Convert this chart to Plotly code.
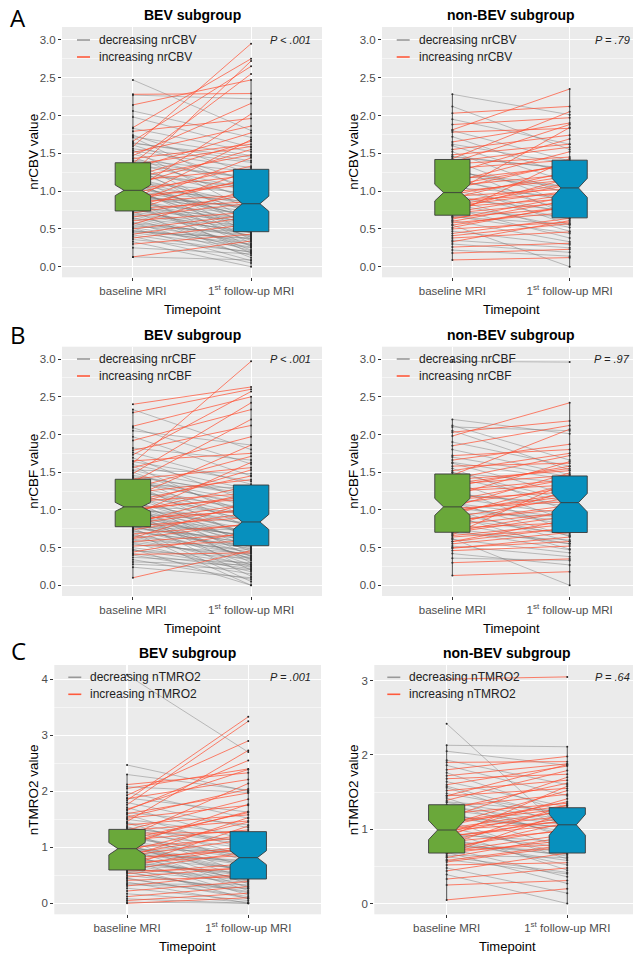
import plotly.graph_objects as go

W, H = 633, 954

timepoints = ["baseline MRI", "1<sup>st</sup> follow-up MRI"]
timepoint_x = [1, 2]
panel_letters = ["A", "B", "C"]
subgroup_titles = ["BEV subgroup", "non-BEV subgroup"]
measures = ["nrCBV", "nrCBF", "nTMRO2"]
p_texts = ["P &lt; .001", "P = .79", "P &lt; .001", "P = .97", "P = .001", "P = .64"]

# ---------------- nrCBV, BEV subgroup ----------------
cbv_bev_baseline = [
    2.47, 2.28, 2.27, 2.14, 2.06, 1.98, 1.84, 1.83, 1.79, 1.74,
    1.71, 1.66, 1.64, 1.61, 1.59, 1.56, 1.54, 1.51, 1.49, 1.47,
    1.45, 1.43, 1.41, 1.39, 1.37, 1.36, 1.34, 1.32, 1.30, 1.28,
    1.26, 1.24, 1.22, 1.20, 1.18, 1.17, 1.15, 1.14, 1.12, 1.10,
    1.09, 1.08, 1.06, 1.05, 1.03, 1.02, 1.01, 1.00, 0.99, 0.98,
    0.97, 0.96, 0.95, 0.93, 0.92, 0.91, 0.89, 0.88, 0.87, 0.86,
    0.85, 0.84, 0.83, 0.82, 0.81, 0.80, 0.79, 0.78, 0.77, 0.76,
    0.75, 0.74, 0.73, 0.72, 0.71, 0.69, 0.68, 0.66, 0.64, 0.63,
    0.61, 0.59, 0.58, 0.56, 0.55, 0.53, 0.51, 0.50, 0.48, 0.46,
    0.45, 0.43, 0.42, 0.40, 0.38, 0.36, 0.33, 0.30, 0.25, 0.13,
    1.53, 1.19, 0.94, 0.70, 1.63, 0.89, 1.27, 0.52, 1.35, 0.13,
    1.15, 0.99, 0.81, 0.65, 1.40, 1.08, 0.57, 0.92, 0.47, 1.72,
]
cbv_bev_followup = [
    1.80, 2.29, 2.22, 2.47, 1.71, 1.58, 2.75, 1.52, 1.96, 1.23,
    0.98, 2.65, 1.40, 1.12, 2.95, 1.38, 0.74, 1.86, 1.05, 2.16,
    0.88, 1.62, 1.26, 0.61, 2.55, 1.02, 1.19, 0.52, 1.77, 0.93,
    0.71, 2.72, 1.05, 0.44, 1.48, 0.83, 0.36, 1.29, 0.97, 0.58,
    0.82, 1.55, 0.65, 0.31, 1.21, 0.90, 0.47, 2.02, 0.76, 0.55,
    1.33, 0.68, 0.27, 1.09, 0.80, 0.39, 1.68, 0.62, 0.18, 0.95,
    0.57, 1.44, 0.70, 0.22, 0.49, 1.17, 0.63, 0.35, 0.86, 0.41,
    0.60, 1.27, 0.12, 0.53, 0.95, 0.45, 0.29, 0.84, 0.48, 0.21,
    0.72, 0.40, 0.15, 1.03, 0.33, 0.46, 0.08, 0.69, 0.30, 0.38,
    0.25, 0.66, 0.19, 0.05, 0.56, 0.20, 0.00, 0.43, 0.17, 0.09,
    1.31, 1.66, 0.78, 0.50, 1.45, 1.14, 1.01, 0.26, 1.59, 0.34,
    0.75, 0.86, 0.55, 0.28, 1.16, 0.64, 0.42, 0.73, 0.37, 1.47,
]

# ---------------- nrCBV, non-BEV subgroup ----------------
cbv_nonbev_baseline = [
    2.28, 2.12, 2.03, 1.95, 1.88, 1.81, 1.80, 1.78, 1.72, 1.65,
    1.60, 1.55, 1.52, 1.48, 1.45, 1.43, 1.41, 1.39, 1.36, 1.33,
    1.30, 1.27, 1.24, 1.21, 1.18, 1.15, 1.12, 1.10, 1.07, 1.05,
    1.03, 1.01, 0.99, 0.97, 0.95, 0.93, 0.91, 0.89, 0.87, 0.85,
    0.83, 0.81, 0.79, 0.77, 0.75, 0.73, 0.71, 0.69, 0.67, 0.65,
    0.63, 0.61, 0.58, 0.55, 0.52, 0.50, 0.47, 0.44, 0.41, 0.38,
    0.35, 0.33, 0.30, 0.26, 0.22, 0.18, 0.09, 0.72, 1.14, 1.62,
    0.96, 1.25, 0.55, 1.46, 0.80, 1.08, 0.66, 1.38, 0.90, 0.60,
]
cbv_nonbev_followup = [
    2.01, 1.55, 2.12, 1.62, 1.97, 2.35, 1.40, 1.83, 1.21, 1.90,
    1.12, 1.74, 0.95, 1.62, 1.30, 2.05, 0.82, 1.58, 1.45, 0.68,
    1.41, 0.98, 1.69, 1.05, 0.74, 1.33, 1.52, 0.55, 1.22, 0.92,
    1.37, 0.71, 1.15, 1.84, 0.63, 1.03, 1.26, 0.47, 0.97, 1.10,
    0.52, 1.08, 0.90, 0.38, 1.17, 0.66, 0.85, 1.43, 0.44, 0.78,
    0.93, 0.33, 0.72, 0.00, 0.81, 0.59, 0.29, 0.64, 0.57, 0.46,
    0.25, 0.61, 0.19, 0.31, 0.14, 0.23, 0.12, 0.96, 0.87, 1.36,
    1.20, 1.06, 0.79, 1.29, 1.00, 1.36, 0.56, 1.88, 0.74, 0.88,
]

# ---------------- nrCBF, BEV subgroup ----------------
cbf_bev_baseline = [
    2.40, 2.33, 2.29, 2.11, 2.09, 2.05, 1.97, 1.92, 1.82, 1.79,
    1.76, 1.73, 1.69, 1.65, 1.62, 1.60, 1.58, 1.56, 1.53, 1.50,
    1.48, 1.46, 1.43, 1.41, 1.39, 1.37, 1.35, 1.33, 1.31, 1.29,
    1.27, 1.25, 1.23, 1.21, 1.19, 1.17, 1.15, 1.13, 1.11, 1.09,
    1.08, 1.07, 1.05, 1.04, 1.03, 1.02, 1.01, 1.00, 0.98, 0.97,
    0.96, 0.95, 0.93, 0.92, 0.91, 0.89, 0.88, 0.87, 0.86, 0.85,
    0.84, 0.83, 0.82, 0.81, 0.80, 0.79, 0.78, 0.77, 0.76, 0.75,
    0.74, 0.73, 0.71, 0.70, 0.68, 0.67, 0.65, 0.63, 0.61, 0.60,
    0.58, 0.56, 0.54, 0.52, 0.50, 0.48, 0.46, 0.44, 0.42, 0.41,
    0.40, 0.37, 0.34, 0.31, 0.28, 0.24, 0.10, 1.44, 1.12, 0.90,
    1.36, 1.18, 0.99, 0.82, 0.66, 1.52, 1.06, 0.77, 1.26, 0.94,
    1.64, 0.86, 1.21, 0.57, 1.00, 0.72, 1.40, 1.10, 0.62, 0.47,
]
cbf_bev_followup = [
    2.63, 1.80, 2.60, 2.50, 1.61, 1.86, 1.45, 2.33, 1.66, 2.12,
    1.34, 2.57, 1.10, 1.75, 2.97, 1.27, 0.88, 1.97, 1.48, 0.95,
    2.42, 1.18, 0.76, 1.56, 1.05, 2.20, 0.61, 1.29, 0.98, 1.71,
    0.84, 1.02, 1.40, 0.53, 0.92, 1.86, 0.68, 0.38, 1.22, 0.80,
    0.57, 1.53, 0.96, 0.30, 0.74, 1.15, 0.45, 0.88, 1.32, 0.62,
    0.20, 0.83, 1.63, 0.58, 0.71, 0.35, 0.99, 0.50, 0.12, 1.08,
    0.66, 0.42, 1.24, 0.55, 0.27, 0.90, 0.48, 0.73, 0.05, 0.61,
    0.96, 0.39, 0.52, 0.00, 0.81, 0.44, 0.25, 1.11, 0.47, 0.33,
    0.68, 0.18, 0.42, 0.59, 0.28, 0.00, 0.36, 0.71, 0.22, 0.43,
    0.15, 0.30, 0.08, 0.27, 0.21, 0.10, 0.46, 1.21, 1.45, 0.64,
    1.08, 0.78, 0.70, 1.02, 0.40, 1.23, 0.51, 0.56, 0.93, 0.34,
    1.38, 0.65, 0.86, 0.37, 1.18, 0.49, 1.12, 0.69, 0.82, 0.24,
]

# ---------------- nrCBF, non-BEV subgroup ----------------
cbf_nonbev_baseline = [
    2.97, 2.20, 2.12, 2.10, 2.05, 2.03, 1.98, 1.90, 1.85, 1.72,
    1.70, 1.66, 1.62, 1.58, 1.55, 1.52, 1.49, 1.46, 1.43, 1.40,
    1.37, 1.34, 1.31, 1.28, 1.25, 1.22, 1.19, 1.16, 1.13, 1.10,
    1.08, 1.06, 1.04, 1.02, 1.00, 0.98, 0.96, 0.94, 0.92, 0.90,
    0.88, 0.85, 0.82, 0.79, 0.76, 0.73, 0.71, 0.69, 0.67, 0.64,
    0.61, 0.58, 0.55, 0.52, 0.49, 0.46, 0.42, 0.36, 0.30, 0.13,
    0.70, 0.95, 1.14, 1.50, 0.80, 0.62, 1.26, 1.03, 0.58, 1.80,
    0.75, 1.20, 1.41, 0.86, 0.50, 1.63, 0.99, 1.09, 0.66, 1.35,
]
cbf_nonbev_followup = [
    2.96, 2.01, 1.66, 2.05, 1.53, 2.18, 2.42, 1.58, 2.12, 1.80,
    1.44, 1.87, 1.20, 1.62, 0.98, 1.75, 1.36, 2.07, 1.10, 1.52,
    0.86, 1.46, 1.58, 0.72, 1.33, 1.05, 1.64, 0.94, 1.41, 0.65,
    1.29, 0.80, 1.49, 1.11, 0.58, 1.22, 0.91, 1.35, 0.48, 1.16,
    0.68, 1.06, 0.55, 1.26, 0.83, 0.47, 0.98, 0.60, 1.38, 0.75,
    0.43, 0.87, 0.70, 0.38, 0.64, 0.52, 0.27, 0.33, 0.35, 0.18,
    0.92, 0.66, 1.24, 1.13, 0.97, 0.00, 1.40, 0.84, 0.76, 1.47,
    0.55, 1.09, 1.72, 1.02, 0.58, 1.40, 1.18, 0.89, 0.81, 1.55,
]

# ---------------- nTMRO2, BEV subgroup ----------------
tmro2_bev_baseline = [
    4.08, 2.47, 2.30, 2.12, 2.08, 2.05, 1.98, 1.93, 1.87, 1.84,
    1.80, 1.76, 1.71, 1.66, 1.62, 1.58, 1.54, 1.50, 1.46, 1.43,
    1.40, 1.37, 1.34, 1.31, 1.28, 1.25, 1.22, 1.19, 1.16, 1.13,
    1.11, 1.09, 1.07, 1.05, 1.03, 1.01, 0.99, 0.98, 0.96, 0.94,
    0.92, 0.90, 0.88, 0.86, 0.84, 0.82, 0.80, 0.78, 0.76, 0.74,
    0.72, 0.70, 0.68, 0.66, 0.64, 0.62, 0.60, 0.58, 0.56, 0.53,
    0.50, 0.47, 0.44, 0.41, 0.38, 0.35, 0.31, 0.27, 0.22, 0.17,
    0.12, 0.08, 0.05, 0.02, 0.00, 1.52, 1.20, 0.97, 0.73, 1.35,
    1.60, 1.02, 0.85, 0.63, 1.26, 0.55, 1.14, 0.79, 1.44, 0.92,
    1.88, 0.45, 0.67, 1.30, 0.99, 0.81, 1.68, 0.33, 1.10, 0.58,
]
tmro2_bev_followup = [
    2.70, 2.00, 2.02, 2.33, 1.98, 2.40, 1.52, 2.90, 2.21, 3.33,
    1.35, 3.25, 1.12, 2.55, 1.40, 0.96, 2.04, 1.22, 2.73, 0.84,
    1.58, 0.75, 1.10, 1.86, 0.52, 1.27, 0.66, 2.14, 0.89, 1.31,
    0.44, 1.64, 0.81, 0.35, 1.77, 0.70, 1.18, 0.28, 0.93, 1.45,
    0.58, 0.23, 1.24, 0.77, 0.41, 1.53, 0.62, 0.15, 1.02, 0.49,
    0.86, 0.31, 0.55, 1.38, 0.08, 0.45, 0.92, 0.37, 0.19, 0.71,
    0.26, 0.64, 0.12, 0.48, 0.00, 0.33, 0.54, 0.05, 0.39, 0.02,
    0.30, 0.00, 0.18, 0.00, 0.10, 1.75, 0.83, 0.68, 0.52, 1.05,
    1.97, 0.59, 1.14, 0.40, 0.98, 0.21, 1.62, 0.43, 1.08, 0.74,
    1.63, 0.09, 1.00, 1.47, 0.57, 0.95, 2.39, 0.27, 0.86, 0.62,
]

# ---------------- nTMRO2, non-BEV subgroup ----------------
tmro2_nonbev_baseline = [
    3.02, 2.42, 2.13, 2.05, 1.93, 1.90, 1.86, 1.80, 1.76, 1.72,
    1.68, 1.64, 1.60, 1.56, 1.52, 1.48, 1.45, 1.42, 1.39, 1.36,
    1.33, 1.30, 1.27, 1.24, 1.21, 1.18, 1.15, 1.12, 1.09, 1.06,
    1.03, 1.01, 0.99, 0.97, 0.95, 0.93, 0.91, 0.89, 0.87, 0.85,
    0.83, 0.81, 0.79, 0.77, 0.75, 0.73, 0.71, 0.69, 0.67, 0.65,
    0.62, 0.59, 0.56, 0.52, 0.48, 0.44, 0.39, 0.33, 0.25, 0.05,
    1.10, 0.96, 1.26, 0.70, 1.45, 0.86, 1.58, 0.76, 1.00, 0.63,
    1.20, 0.90, 1.37, 0.80, 1.05, 0.58, 1.31, 0.94, 0.68, 1.14,
]
tmro2_nonbev_followup = [
    3.05, 0.95, 2.11, 1.86, 1.60, 1.91, 1.45, 1.98, 1.22, 1.88,
    1.74, 1.30, 1.85, 1.05, 1.66, 1.20, 1.55, 0.88, 1.79, 1.13,
    0.92, 1.47, 1.62, 0.74, 1.35, 1.02, 1.70, 0.60, 1.28, 1.52,
    0.67, 1.25, 1.10, 0.45, 1.41, 0.83, 1.06, 1.58, 0.52, 1.17,
    0.98, 0.58, 1.33, 0.71, 0.36, 1.09, 0.80, 0.27, 1.23, 0.62,
    0.90, 0.40, 0.77, 0.55, 0.14, 0.68, 0.00, 0.48, 0.31, 0.20,
    1.32, 0.75, 1.06, 0.93, 1.87, 0.64, 1.15, 1.00, 1.18, 0.42,
    0.97, 1.12, 1.24, 0.66, 1.37, 0.79, 1.09, 1.26, 0.85, 1.03,
]

# box statistics: [q1, median, q3, lower whisker, upper whisker, notch half-span]
cbv_bev_box_base = [0.737, 1.01, 1.375, 0.13, 2.28, 0.07]
cbv_bev_box_fu = [0.463, 0.833, 1.288, 0.00, 2.47, 0.10]
cbv_nonbev_box_base = [0.681, 0.98, 1.418, 0.09, 2.28, 0.11]
cbv_nonbev_box_fu = [0.646, 1.042, 1.409, 0.00, 2.35, 0.126]
cbf_bev_box_base = [0.777, 1.04, 1.406, 0.10, 2.33, 0.06]
cbf_bev_box_fu = [0.525, 0.84, 1.33, 0.00, 2.50, 0.10]
cbf_nonbev_box_base = [0.703, 1.04, 1.476, 0.13, 2.20, 0.112]
cbf_nonbev_box_fu = [0.70, 1.096, 1.45, 0.00, 2.42, 0.122]
tmro2_bev_box_base = [0.595, 0.975, 1.32, 0.00, 2.30, 0.11]
tmro2_bev_box_fu = [0.434, 0.815, 1.28, 0.00, 2.40, 0.125]
tmro2_nonbev_box_base = [0.68, 0.99, 1.33, 0.05, 2.13, 0.13]
tmro2_nonbev_box_fu = [0.68, 1.06, 1.29, 0.00, 2.11, 0.14]

GREEN = "#6AA83A"
BLUE = "#0790BE"
GREY_LINE = "rgba(120,120,120,0.5)"
RED_LINE = "rgba(255,80,50,0.8)"
GREY_KEY = "#999999"
RED_KEY = "#FF5A3C"
FONT = "Liberation Sans, Arial, sans-serif"

# layout (pixel geometry) per panel
panels = [
    dict(base=cbv_bev_baseline, fu=cbv_bev_followup, bb=cbv_bev_box_base, bf=cbv_bev_box_fu,
         measure=measures[0], title=subgroup_titles[0], p=p_texts[0],
         xdom=(62, 322), ydom=(27, 277.3), xr=[0.4, 2.6], yr=[-0.14, 3.17],
         dtick=0.5, minor=0.25, fmt=".1f", leg_x=97, leg_y=40, p_x=313, ytx=33.5, tcx=192),
    dict(base=cbv_nonbev_baseline, fu=cbv_nonbev_followup, bb=cbv_nonbev_box_base, bf=cbv_nonbev_box_fu,
         measure=measures[0], title=subgroup_titles[1], p=p_texts[1],
         xdom=(382, 633), ydom=(27, 277.3), xr=[0.4, 2.54], yr=[-0.14, 3.17],
         dtick=0.5, minor=0.25, fmt=".1f", leg_x=416.7, leg_y=40, p_x=632, ytx=353.5, tcx=511),
    dict(base=cbf_bev_baseline, fu=cbf_bev_followup, bb=cbf_bev_box_base, bf=cbf_bev_box_fu,
         measure=measures[1], title=subgroup_titles[0], p=p_texts[2],
         xdom=(62, 322), ydom=(346.7, 596), xr=[0.4, 2.6], yr=[-0.142, 3.164],
         dtick=0.5, minor=0.25, fmt=".1f", leg_x=97, leg_y=359, p_x=313, ytx=33.5, tcx=192),
    dict(base=cbf_nonbev_baseline, fu=cbf_nonbev_followup, bb=cbf_nonbev_box_base, bf=cbf_nonbev_box_fu,
         measure=measures[1], title=subgroup_titles[1], p=p_texts[3],
         xdom=(382, 633), ydom=(346.7, 596), xr=[0.4, 2.54], yr=[-0.142, 3.164],
         dtick=0.5, minor=0.25, fmt=".1f", leg_x=416.7, leg_y=359, p_x=632, ytx=353.5, tcx=511),
    dict(base=tmro2_bev_baseline, fu=tmro2_bev_followup, bb=tmro2_bev_box_base, bf=tmro2_bev_box_fu,
         measure=measures[2], title=subgroup_titles[0], p=p_texts[4],
         xdom=(54.3, 321), ydom=(665, 914.3), xr=[0.4, 2.6], yr=[-0.196, 4.255],
         dtick=1, minor=0.5, fmt="d", leg_x=88.3, leg_y=677.3, p_x=313, ytx=33.5, tcx=188),
    dict(base=tmro2_nonbev_baseline, fu=tmro2_nonbev_followup, bb=tmro2_nonbev_box_base, bf=tmro2_nonbev_box_fu,
         measure=measures[2], title=subgroup_titles[1], p=p_texts[5],
         xdom=(374.3, 633), xr=[0.4, 2.545], ydom=(665, 914.3), yr=[-0.144, 3.21],
         dtick=1, minor=0.5, fmt="d", leg_x=407.3, leg_y=677.3, p_x=632, ytx=353.5, tcx=507),
]

letter_pos = [(18, 17), (18, 334), (18, 650)]


def px_x(v):
    return v / W


def px_y(v):
    return 1 - v / H


fig = go.Figure()
layout = dict(
    width=W, height=H, autosize=False,
    margin=dict(l=0, r=0, t=0, b=0),
    paper_bgcolor="white", plot_bgcolor="#EBEBEB",
    font=dict(family=FONT, color="#222222"),
    showlegend=False,
)
annotations = []
shapes = []

for i, p in enumerate(panels, start=1):
    assert len(p["base"]) == len(p["fu"])
    sx = "" if i == 1 else str(i)
    xa, ya = "x" + sx, "y" + sx
    ov = str(i + 6)

    dec_x, dec_y, inc_x, inc_y = [], [], [], []
    for b, f in zip(p["base"], p["fu"]):
        if f > b:
            inc_x += [timepoint_x[0], timepoint_x[1], None]
            inc_y += [b, f, None]
        else:
            dec_x += [timepoint_x[0], timepoint_x[1], None]
            dec_y += [b, f, None]

    fig.add_trace(go.Scatter(x=dec_x, y=dec_y, mode="lines", line=dict(color=GREY_LINE, width=0.9),
                             name="decreasing " + p["measure"], xaxis=xa, yaxis=ya, hoverinfo="skip"))
    fig.add_trace(go.Scatter(x=inc_x, y=inc_y, mode="lines", line=dict(color=RED_LINE, width=0.9),
                             name="increasing " + p["measure"], xaxis=xa, yaxis=ya, hoverinfo="skip"))
    n = len(p["base"])
    fig.add_trace(go.Scatter(x=[timepoint_x[0]] * n + [timepoint_x[1]] * n, y=p["base"] + p["fu"],
                             mode="markers", marker=dict(size=2, color="#222222"),
                             xaxis=xa, yaxis=ya, hoverinfo="skip"))
    for xpos, st, col in ((timepoint_x[0], p["bb"], GREEN), (timepoint_x[1], p["bf"], BLUE)):
        fig.add_trace(go.Box(x=[xpos], q1=[st[0]], median=[st[1]], q3=[st[2]],
                             lowerfence=[st[3]], upperfence=[st[4]], notchspan=[st[5]],
                             notched=True, notchwidth=0.25, width=0.3, whiskerwidth=0,
                             fillcolor=col, line=dict(color="#3a3a3a", width=0.9),
                             boxpoints=False, xaxis="x" + ov, yaxis=ya, hoverinfo="skip"))

    layout["xaxis" + sx] = dict(
        domain=[px_x(p["xdom"][0]), px_x(p["xdom"][1])], range=p["xr"], anchor=ya,
        tickmode="array", tickvals=timepoint_x, ticktext=timepoints,
        ticks="outside", ticklen=3, tickwidth=1, tickcolor="#333333",
        tickfont=dict(size=11.5, color="#4D4D4D", family=FONT),
        showgrid=True, gridcolor="white", gridwidth=1.1, zeroline=False, showline=False,
    )
    layout["yaxis" + sx] = dict(
        domain=[px_y(p["ydom"][1]), px_y(p["ydom"][0])], range=p["yr"], anchor=xa,
        tickmode="linear", tick0=0, dtick=p["dtick"], tickformat=p["fmt"],
        ticks="outside", ticklen=3, tickwidth=1, tickcolor="#333333",
        tickfont=dict(size=11.5, color="#4D4D4D", family=FONT),
        showgrid=True, gridcolor="white", gridwidth=1.1, zeroline=False, showline=False,
        minor=dict(tick0=0, dtick=p["minor"], showgrid=True, gridcolor="white", gridwidth=0.5),
    )
    layout["xaxis" + ov] = dict(overlaying=xa, anchor=ya, range=p["xr"], visible=False)

    # key (legend) drawn inside the panel, top-left
    for k, (label, col) in enumerate((("decreasing " + p["measure"], GREY_KEY),
                                      ("increasing " + p["measure"], RED_KEY))):
        ky = p["leg_y"] + 17 * k
        shapes.append(dict(type="line", xref="paper", yref="paper",
                           x0=px_x(p["leg_x"] - 20), x1=px_x(p["leg_x"] - 7),
                           y0=px_y(ky), y1=px_y(ky), line=dict(color=col, width=1.6)))
        annotations.append(dict(text=label, x=px_x(p["leg_x"]), y=px_y(ky), xanchor="left",
                                yanchor="middle", font=dict(size=12, color="#222222", family=FONT)))

    plot_mid_y = (p["ydom"][0] + p["ydom"][1]) / 2
    annotations += [
        dict(text="<b>" + p["title"] + "</b>", x=px_x(p["tcx"]), y=px_y(p["ydom"][0] - 12),
             xanchor="center", yanchor="middle", font=dict(size=14, color="black", family=FONT)),
        dict(text="Timepoint", x=px_x(p["tcx"]), y=px_y(p["ydom"][1] + 32),
             xanchor="center", yanchor="middle", font=dict(size=13, color="black", family=FONT)),
        dict(text=p["measure"] + " value", x=px_x(p["ytx"]), y=px_y(plot_mid_y), textangle=-90,
             xanchor="center", yanchor="middle", font=dict(size=13.5, color="black", family=FONT)),
        dict(text="<i>" + p["p"] + "</i>", x=px_x(p["p_x"]), y=px_y(p["leg_y"]),
             xanchor="right", yanchor="middle", font=dict(size=11, color="#222222", family=FONT)),
    ]

for letter, (lx, ly) in zip(panel_letters, letter_pos):
    annotations.append(dict(text=letter, x=px_x(lx), y=px_y(ly), xanchor="center", yanchor="middle",
                            font=dict(size=24, color="black", family="Open Sans, DejaVu Sans, sans-serif")))

for a in annotations:
    a.update(xref="paper", yref="paper", showarrow=False)
layout["annotations"] = annotations
layout["shapes"] = shapes

fig.update_layout(**layout)
fig.write_html("out.html", config={"displayModeBar": False, "staticPlot": True},
               post_script="document.body.style.margin='0px';")
